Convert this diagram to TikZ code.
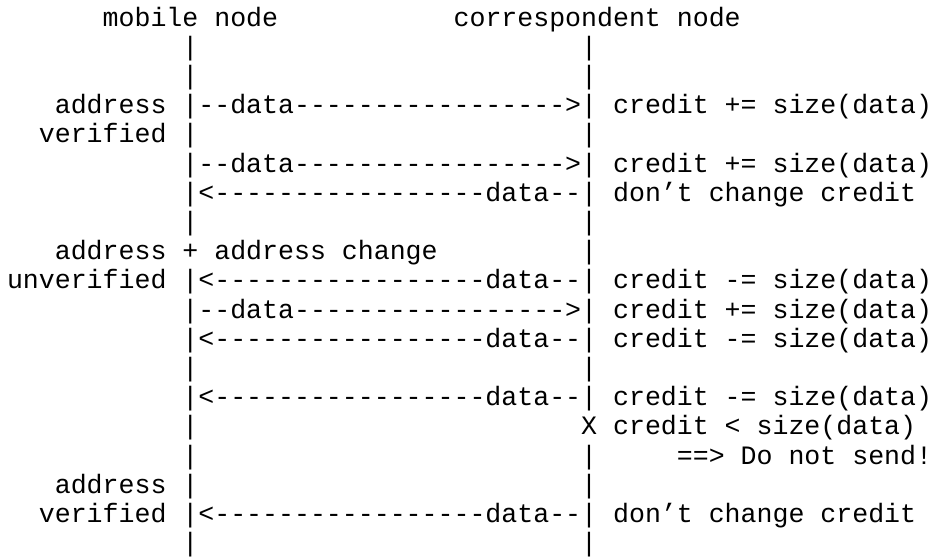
\documentclass[tikz,border=0pt]{standalone}
\usepackage{fontspec}
\setmonofont{Liberation Mono}
\begin{document}
\begin{tikzpicture}[x=15.95pt,y=29.2pt,
  txt/.style={anchor=base west, inner sep=0pt, outer sep=0pt,
    font=\ttfamily\fontsize{26.58pt}{29.2pt}\selectfont}]
\useasboundingbox[fill=white] (-7pt,26pt) rectangle (926pt,-532pt);
% headers
\node[txt] (mn) at (6,0) {mobile node};
\node[txt] (cn) at (28,0) {correspondent node};
% row 1-2
\node[txt] (l1) at (11,-1) {|};  \node[txt] (r1) at (36,-1) {|};
\node[txt] (l2) at (11,-2) {|};  \node[txt] (r2) at (36,-2) {|};
% row 3
\node[txt] (a3) at (3,-3) {address};
\node[txt] (m3) at (11,-3) {|--data----------------->|};
\node[txt] (c3) at (38,-3) {credit += size(data)};
% row 4
\node[txt] (v4) at (2,-4) {verified};
\node[txt] (l4) at (11,-4) {|};  \node[txt] (r4) at (36,-4) {|};
% row 5
\node[txt] (m5) at (11,-5) {|--data----------------->|};
\node[txt] (c5) at (38,-5) {credit += size(data)};
% row 6
\node[txt] (m6) at (11,-6) {|<-----------------data--|};
\node[txt] (c6) at (38,-6) {don’t change credit};
% row 7
\node[txt] (l7) at (11,-7) {|};  \node[txt] (r7) at (36,-7) {|};
% row 8
\node[txt] (a8) at (3,-8) {address + address change};
\node[txt] (r8) at (36,-8) {|};
% row 9
\node[txt] (u9) at (0,-9) {unverified};
\node[txt] (m9) at (11,-9) {|<-----------------data--|};
\node[txt] (c9) at (38,-9) {credit -= size(data)};
% row 10
\node[txt] (m10) at (11,-10) {|--data----------------->|};
\node[txt] (c10) at (38,-10) {credit += size(data)};
% row 11
\node[txt] (m11) at (11,-11) {|<-----------------data--|};
\node[txt] (c11) at (38,-11) {credit -= size(data)};
% row 12
\node[txt] (l12) at (11,-12) {|};  \node[txt] (r12) at (36,-12) {|};
% row 13
\node[txt] (m13) at (11,-13) {|<-----------------data--|};
\node[txt] (c13) at (38,-13) {credit -= size(data)};
% row 14
\node[txt] (l14) at (11,-14) {|};
\node[txt] (x14) at (36,-14) {X credit < size(data)};
% row 15
\node[txt] (l15) at (11,-15) {|};  \node[txt] (r15) at (36,-15) {|};
\node[txt] (d15) at (42,-15) {==> Do not send!};
% row 16
\node[txt] (a16) at (3,-16) {address};
\node[txt] (l16) at (11,-16) {|};  \node[txt] (r16) at (36,-16) {|};
% row 17
\node[txt] (v17) at (2,-17) {verified};
\node[txt] (m17) at (11,-17) {|<-----------------data--|};
\node[txt] (c17) at (38,-17) {don’t change credit};
% row 18
\node[txt] (l18) at (11,-18) {|};  \node[txt] (r18) at (36,-18) {|};
\end{tikzpicture}
\end{document}
